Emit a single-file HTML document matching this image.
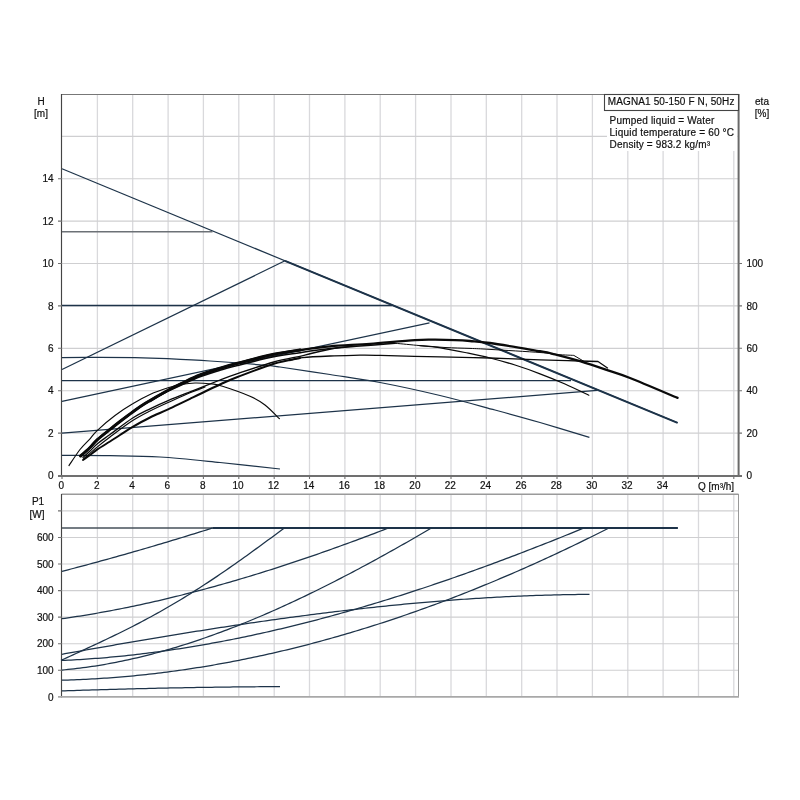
<!DOCTYPE html><html><head><meta charset="utf-8"><title>MAGNA1 50-150 F N</title><style>html,body{margin:0;padding:0;background:#fff}svg{display:block;will-change:transform}text{stroke:#111;stroke-width:.2px}</style></head><body><svg width="800" height="800" viewBox="0 0 800 800" font-family="Liberation Sans, Arial, sans-serif" font-size="10" fill="#111">
<rect width="800" height="800" fill="#fff"/>
<path d="M97.4 94.5V475 M97.4 494.5V696.5 M132.7 94.5V475 M132.7 494.5V696.5 M168.1 94.5V475 M168.1 494.5V696.5 M203.4 94.5V475 M203.4 494.5V696.5 M238.8 94.5V475 M238.8 494.5V696.5 M274.2 94.5V475 M274.2 494.5V696.5 M309.5 94.5V475 M309.5 494.5V696.5 M344.9 94.5V475 M344.9 494.5V696.5 M380.2 94.5V475 M380.2 494.5V696.5 M415.6 94.5V475 M415.6 494.5V696.5 M451.0 94.5V475 M451.0 494.5V696.5 M486.3 94.5V475 M486.3 494.5V696.5 M521.7 94.5V475 M521.7 494.5V696.5 M557.0 94.5V475 M557.0 494.5V696.5 M592.4 94.5V475 M592.4 494.5V696.5 M627.8 94.5V475 M627.8 494.5V696.5 M663.1 94.5V475 M663.1 494.5V696.5 M698.5 94.5V475 M698.5 494.5V696.5 M733.8 94.5V475 M733.8 494.5V696.5" stroke="#d9d9dc" stroke-width="1.3" fill="none"/>
<path d="M62 433.1H738 M62 390.7H738 M62 348.3H738 M62 305.9H738 M62 263.5H738 M62 221.1H738 M62 178.7H738 M62 136.3H738 M62 670.2H738 M62 643.7H738 M62 617.1H738 M62 590.6H738 M62 564.0H738 M62 537.5H738 M62 510.9H738" stroke="#cfcfd1" stroke-width="1.15" fill="none"/>
<rect x="607" y="111" width="130.5" height="40" fill="#fff"/>
<path d="M61.5 94.5H738.5" stroke="#777" stroke-width="1.2" fill="none"/>
<path d="M61.5 94V476" stroke="#444" stroke-width="1.15" fill="none"/>
<path d="M738.6 94V476.5" stroke="#6a6a6a" stroke-width="2" fill="none"/>
<path d="M58 476H742" stroke="#707070" stroke-width="1.8" fill="none"/>
<path d="M61.5 494.3H738.5" stroke="#9a9a9a" stroke-width="1.6" fill="none"/>
<path d="M738.5 494V697" stroke="#999" stroke-width="1" fill="none"/>
<path d="M61.5 494V697.5" stroke="#444" stroke-width="1.15" fill="none"/>
<path d="M58 696.8H739" stroke="#a8a8a8" stroke-width="1.8" fill="none"/>
<path d="M62.0 476V479 M97.4 476V479 M132.7 476V479 M168.1 476V479 M203.4 476V479 M238.8 476V479 M274.2 476V479 M309.5 476V479 M344.9 476V479 M380.2 476V479 M415.6 476V479 M451.0 476V479 M486.3 476V479 M521.7 476V479 M557.0 476V479 M592.4 476V479 M627.8 476V479 M663.1 476V479 M698.5 476V479 M733.8 476V479 M58 433.1H62 M58 390.7H62 M58 348.3H62 M58 305.9H62 M58 263.5H62 M58 221.1H62 M58 178.7H62 M738 433.1H742 M738 390.7H742 M738 348.3H742 M738 305.9H742 M738 263.5H742 M58 670.2H62 M58 643.7H62 M58 617.1H62 M58 590.6H62 M58 564.0H62 M58 537.5H62 M58 510.9H62" stroke="#707070" stroke-width="1.1" fill="none"/>
<g font-size="10">
<text x="53.6" y="479.2" text-anchor="end">0</text>
<text x="53.6" y="436.8" text-anchor="end">2</text>
<text x="53.6" y="394.4" text-anchor="end">4</text>
<text x="53.6" y="352.0" text-anchor="end">6</text>
<text x="53.6" y="309.6" text-anchor="end">8</text>
<text x="53.6" y="267.2" text-anchor="end">10</text>
<text x="53.6" y="224.8" text-anchor="end">12</text>
<text x="53.6" y="182.4" text-anchor="end">14</text>
<text x="746.4" y="479.2">0</text>
<text x="746.4" y="436.8">20</text>
<text x="746.4" y="394.4">40</text>
<text x="746.4" y="352.0">60</text>
<text x="746.4" y="309.6">80</text>
<text x="746.4" y="267.2">100</text>
<text x="61.3" y="489.2" text-anchor="middle">0</text>
<text x="96.7" y="489.2" text-anchor="middle">2</text>
<text x="132.0" y="489.2" text-anchor="middle">4</text>
<text x="167.4" y="489.2" text-anchor="middle">6</text>
<text x="202.7" y="489.2" text-anchor="middle">8</text>
<text x="238.1" y="489.2" text-anchor="middle">10</text>
<text x="273.5" y="489.2" text-anchor="middle">12</text>
<text x="308.8" y="489.2" text-anchor="middle">14</text>
<text x="344.2" y="489.2" text-anchor="middle">16</text>
<text x="379.5" y="489.2" text-anchor="middle">18</text>
<text x="414.9" y="489.2" text-anchor="middle">20</text>
<text x="450.3" y="489.2" text-anchor="middle">22</text>
<text x="485.6" y="489.2" text-anchor="middle">24</text>
<text x="521.0" y="489.2" text-anchor="middle">26</text>
<text x="556.3" y="489.2" text-anchor="middle">28</text>
<text x="591.7" y="489.2" text-anchor="middle">30</text>
<text x="627.1" y="489.2" text-anchor="middle">32</text>
<text x="662.4" y="489.2" text-anchor="middle">34</text>
<text x="53.6" y="700.5" text-anchor="end">0</text>
<text x="53.6" y="674.0" text-anchor="end">100</text>
<text x="53.6" y="647.4" text-anchor="end">200</text>
<text x="53.6" y="620.9" text-anchor="end">300</text>
<text x="53.6" y="594.3" text-anchor="end">400</text>
<text x="53.6" y="567.8" text-anchor="end">500</text>
<text x="53.6" y="541.2" text-anchor="end">600</text>
</g>
<text x="41" y="104.5" text-anchor="middle">H</text>
<text x="41" y="117" text-anchor="middle">[m]</text>
<text x="762" y="104.5" text-anchor="middle">eta</text>
<text x="762" y="117" text-anchor="middle">[%]</text>
<text x="38" y="505" text-anchor="middle">P1</text>
<text x="37" y="518" text-anchor="middle">[W]</text>
<text x="698" y="489.5">Q [m³/h]</text>
<rect x="604.5" y="94.5" width="134" height="16" fill="#fff" stroke="#444" stroke-width="1.1"/>
<text x="607.8" y="105" textLength="126.6" lengthAdjust="spacing">MAGNA1 50-150 F N, 50Hz</text>
<text x="609.6" y="124" textLength="104.8" lengthAdjust="spacing">Pumped liquid = Water</text>
<text x="609.6" y="136" textLength="124.4" lengthAdjust="spacing">Liquid temperature = 60 °C</text>
<text x="609.6" y="148" textLength="100.4" lengthAdjust="spacing">Density = 983.2 kg/m³</text>
<path d="M62.0 168.8 L677.6 422.8" stroke="#1d3349" stroke-width="1.2" fill="none" stroke-linejoin="round"/>
<path d="M285.0 260.8 L677.6 422.8" stroke="#1d3349" stroke-width="2.0" fill="none" stroke-linejoin="round"/>
<path d="M62.0 231.7 L212.5 231.7" stroke="#6c7176" stroke-width="1.4" fill="none" stroke-linejoin="round"/>
<path d="M62.0 305.5 L392.0 305.5" stroke="#1d3349" stroke-width="1.3" fill="none" stroke-linejoin="round"/>
<path d="M62.0 380.6 L571.0 380.6" stroke="#1d3349" stroke-width="1.3" fill="none" stroke-linejoin="round"/>
<path d="M62.0 369.5 L285.0 260.8" stroke="#1d3349" stroke-width="1.25" fill="none" stroke-linejoin="round"/>
<path d="M62.0 401.3 L429.5 322.8" stroke="#1d3349" stroke-width="1.25" fill="none" stroke-linejoin="round"/>
<path d="M62.0 433.2 L597.0 390.4" stroke="#1d3349" stroke-width="1.25" fill="none" stroke-linejoin="round"/>
<path d="M62.0 357.6 C68.3 357.6 87.8 357.4 100.0 357.4 C112.2 357.4 123.8 357.4 135.0 357.6 C146.2 357.8 155.0 358.1 167.5 358.7 C180.0 359.3 194.6 360.0 210.0 361.0 C225.4 362.0 248.3 363.8 260.0 364.8 C271.7 365.8 268.3 365.4 280.0 367.0 C291.7 368.6 313.3 371.9 330.0 374.5 C346.7 377.1 361.7 379.0 380.0 382.5 C398.3 386.0 420.8 390.9 440.0 395.5 C459.2 400.1 478.3 405.5 495.0 410.0 C511.7 414.5 524.3 417.9 540.0 422.5 C555.7 427.1 581.2 434.8 589.4 437.3" stroke="#1d3349" stroke-width="1.25" fill="none" stroke-linejoin="round"/>
<path d="M62.0 455.3 C70.0 455.4 93.7 455.3 110.0 455.6 C126.3 455.9 141.7 455.9 160.0 457.0 C178.3 458.1 200.0 460.5 220.0 462.5 C240.0 464.5 270.0 467.9 280.0 469.0" stroke="#1d3349" stroke-width="1.25" fill="none" stroke-linejoin="round"/>
<path d="M62.0 528.0 L214.0 528.0" stroke="#46505a" stroke-width="1.6" fill="none" stroke-linejoin="round"/>
<path d="M213.0 528.0 L677.9 528.0" stroke="#1d3349" stroke-width="1.9" fill="none" stroke-linejoin="round"/>
<path d="M62.0 571.37 L65.0 570.59 L68.0 569.81 L71.0 569.02 L74.0 568.23 L77.0 567.44 L80.0 566.64 L83.0 565.84 L86.0 565.04 L89.0 564.23 L92.0 563.42 L95.0 562.61 L98.0 561.79 L101.0 560.97 L104.0 560.15 L107.0 559.32 L110.0 558.49 L113.0 557.65 L116.0 556.81 L119.0 555.97 L122.0 555.13 L125.0 554.28 L128.0 553.42 L131.0 552.57 L134.0 551.71 L137.0 550.85 L140.0 549.98 L143.0 549.11 L146.0 548.24 L149.0 547.36 L152.0 546.48 L155.0 545.60 L158.0 544.71 L161.0 543.82 L164.0 542.92 L167.0 542.03 L170.0 541.12 L173.0 540.22 L176.0 539.31 L179.0 538.40 L182.0 537.48 L185.0 536.57 L188.0 535.64 L191.0 534.72 L194.0 533.79 L197.0 532.86 L200.0 531.92 L203.0 530.98 L206.0 530.04 L209.0 529.09 L212.0 528.14 L213.8 528.00" stroke="#1d3349" stroke-width="1.25" fill="none" stroke-linejoin="round"/>
<path d="M61.0 660.38 L64.0 658.99 L67.0 657.60 L70.0 656.21 L73.0 654.83 L76.0 653.45 L79.0 652.07 L82.0 650.69 L85.0 649.31 L88.0 647.92 L91.0 646.53 L94.0 645.14 L97.0 643.74 L100.0 642.33 L103.0 640.92 L106.0 639.49 L109.0 638.06 L112.0 636.62 L115.0 635.17 L118.0 633.70 L121.0 632.23 L124.0 630.74 L127.0 629.24 L130.0 627.72 L133.0 626.19 L136.0 624.65 L139.0 623.09 L142.0 621.51 L145.0 619.92 L148.0 618.31 L151.0 616.69 L154.0 615.04 L157.0 613.38 L160.0 611.71 L163.0 610.01 L166.0 608.30 L169.0 606.56 L172.0 604.81 L175.0 603.04 L178.0 601.25 L181.0 599.45 L184.0 597.62 L187.0 595.78 L190.0 593.92 L193.0 592.04 L196.0 590.14 L199.0 588.22 L202.0 586.29 L205.0 584.34 L208.0 582.37 L211.0 580.38 L214.0 578.38 L217.0 576.36 L220.0 574.33 L223.0 572.28 L226.0 570.21 L229.0 568.13 L232.0 566.04 L235.0 563.93 L238.0 561.82 L241.0 559.69 L244.0 557.54 L247.0 555.39 L250.0 553.23 L253.0 551.06 L256.0 548.88 L259.0 546.69 L262.0 544.50 L265.0 542.30 L268.0 540.10 L271.0 537.89 L274.0 535.68 L277.0 533.47 L280.0 531.26 L283.0 529.05 L284.2 528.13" stroke="#1d3349" stroke-width="1.25" fill="none" stroke-linejoin="round"/>
<path d="M62.0 618.72 L65.0 618.29 L68.0 617.86 L71.0 617.41 L74.0 616.96 L77.0 616.49 L80.0 616.02 L83.0 615.54 L86.0 615.05 L89.0 614.55 L92.0 614.04 L95.0 613.53 L98.0 613.00 L101.0 612.47 L104.0 611.93 L107.0 611.38 L110.0 610.82 L113.0 610.25 L116.0 609.68 L119.0 609.09 L122.0 608.50 L125.0 607.90 L128.0 607.29 L131.0 606.68 L134.0 606.05 L137.0 605.42 L140.0 604.78 L143.0 604.13 L146.0 603.47 L149.0 602.81 L152.0 602.14 L155.0 601.46 L158.0 600.77 L161.0 600.07 L164.0 599.37 L167.0 598.66 L170.0 597.94 L173.0 597.21 L176.0 596.48 L179.0 595.74 L182.0 594.99 L185.0 594.23 L188.0 593.47 L191.0 592.70 L194.0 591.92 L197.0 591.14 L200.0 590.35 L203.0 589.55 L206.0 588.74 L209.0 587.93 L212.0 587.11 L215.0 586.28 L218.0 585.44 L221.0 584.60 L224.0 583.75 L227.0 582.90 L230.0 582.04 L233.0 581.17 L236.0 580.29 L239.0 579.41 L242.0 578.52 L245.0 577.63 L248.0 576.73 L251.0 575.82 L254.0 574.90 L257.0 573.98 L260.0 573.06 L263.0 572.12 L266.0 571.18 L269.0 570.24 L272.0 569.29 L275.0 568.33 L278.0 567.36 L281.0 566.39 L284.0 565.42 L287.0 564.43 L290.0 563.45 L293.0 562.45 L296.0 561.45 L299.0 560.45 L302.0 559.44 L305.0 558.42 L308.0 557.40 L311.0 556.37 L314.0 555.33 L317.0 554.29 L320.0 553.25 L323.0 552.20 L326.0 551.14 L329.0 550.08 L332.0 549.01 L335.0 547.94 L338.0 546.87 L341.0 545.78 L344.0 544.70 L347.0 543.60 L350.0 542.51 L353.0 541.40 L356.0 540.30 L359.0 539.18 L362.0 538.07 L365.0 536.94 L368.0 535.82 L371.0 534.68 L374.0 533.55 L377.0 532.41 L380.0 531.26 L383.0 530.11 L386.0 528.96 L388.8 528.00" stroke="#1d3349" stroke-width="1.25" fill="none" stroke-linejoin="round"/>
<path d="M62.0 670.02 L65.0 669.75 L68.0 669.46 L71.0 669.15 L74.0 668.82 L77.0 668.47 L80.0 668.11 L83.0 667.72 L86.0 667.32 L89.0 666.90 L92.0 666.46 L95.0 666.01 L98.0 665.53 L101.0 665.04 L104.0 664.53 L107.0 664.00 L110.0 663.46 L113.0 662.90 L116.0 662.32 L119.0 661.72 L122.0 661.11 L125.0 660.48 L128.0 659.83 L131.0 659.16 L134.0 658.48 L137.0 657.79 L140.0 657.07 L143.0 656.34 L146.0 655.60 L149.0 654.84 L152.0 654.06 L155.0 653.27 L158.0 652.46 L161.0 651.63 L164.0 650.80 L167.0 649.94 L170.0 649.07 L173.0 648.19 L176.0 647.29 L179.0 646.37 L182.0 645.44 L185.0 644.50 L188.0 643.54 L191.0 642.57 L194.0 641.58 L197.0 640.58 L200.0 639.56 L203.0 638.53 L206.0 637.49 L209.0 636.43 L212.0 635.36 L215.0 634.28 L218.0 633.18 L221.0 632.07 L224.0 630.95 L227.0 629.81 L230.0 628.66 L233.0 627.50 L236.0 626.33 L239.0 625.14 L242.0 623.94 L245.0 622.73 L248.0 621.50 L251.0 620.27 L254.0 619.02 L257.0 617.76 L260.0 616.49 L263.0 615.20 L266.0 613.91 L269.0 612.60 L272.0 611.28 L275.0 609.95 L278.0 608.61 L281.0 607.26 L284.0 605.90 L287.0 604.53 L290.0 603.15 L293.0 601.75 L296.0 600.35 L299.0 598.94 L302.0 597.51 L305.0 596.08 L308.0 594.63 L311.0 593.18 L314.0 591.72 L317.0 590.24 L320.0 588.76 L323.0 587.27 L326.0 585.77 L329.0 584.26 L332.0 582.74 L335.0 581.21 L338.0 579.67 L341.0 578.13 L344.0 576.57 L347.0 575.01 L350.0 573.44 L353.0 571.86 L356.0 570.27 L359.0 568.68 L362.0 567.07 L365.0 565.46 L368.0 563.85 L371.0 562.22 L374.0 560.59 L377.0 558.95 L380.0 557.30 L383.0 555.64 L386.0 553.98 L389.0 552.31 L392.0 550.64 L395.0 548.96 L398.0 547.27 L401.0 545.57 L404.0 543.87 L407.0 542.17 L410.0 540.45 L413.0 538.73 L416.0 537.01 L419.0 535.28 L422.0 533.54 L425.0 531.80 L428.0 530.06 L431.0 528.30 L431.2 528.16" stroke="#1d3349" stroke-width="1.25" fill="none" stroke-linejoin="round"/>
<path d="M62.0 660.46 L65.0 660.33 L68.0 660.18 L71.0 660.03 L74.0 659.87 L77.0 659.70 L80.0 659.52 L83.0 659.33 L86.0 659.13 L89.0 658.93 L92.0 658.71 L95.0 658.49 L98.0 658.26 L101.0 658.02 L104.0 657.76 L107.0 657.51 L110.0 657.24 L113.0 656.96 L116.0 656.68 L119.0 656.39 L122.0 656.08 L125.0 655.77 L128.0 655.46 L131.0 655.13 L134.0 654.79 L137.0 654.45 L140.0 654.10 L143.0 653.74 L146.0 653.37 L149.0 652.99 L152.0 652.61 L155.0 652.22 L158.0 651.81 L161.0 651.40 L164.0 650.99 L167.0 650.56 L170.0 650.13 L173.0 649.69 L176.0 649.24 L179.0 648.78 L182.0 648.32 L185.0 647.84 L188.0 647.36 L191.0 646.88 L194.0 646.38 L197.0 645.88 L200.0 645.36 L203.0 644.85 L206.0 644.32 L209.0 643.78 L212.0 643.24 L215.0 642.69 L218.0 642.14 L221.0 641.57 L224.0 641.00 L227.0 640.42 L230.0 639.84 L233.0 639.24 L236.0 638.64 L239.0 638.03 L242.0 637.42 L245.0 636.79 L248.0 636.16 L251.0 635.53 L254.0 634.88 L257.0 634.23 L260.0 633.57 L263.0 632.91 L266.0 632.24 L269.0 631.56 L272.0 630.87 L275.0 630.18 L278.0 629.48 L281.0 628.77 L284.0 628.06 L287.0 627.34 L290.0 626.61 L293.0 625.88 L296.0 625.14 L299.0 624.39 L302.0 623.64 L305.0 622.88 L308.0 622.11 L311.0 621.34 L314.0 620.56 L317.0 619.78 L320.0 618.98 L323.0 618.19 L326.0 617.38 L329.0 616.57 L332.0 615.75 L335.0 614.93 L338.0 614.10 L341.0 613.26 L344.0 612.42 L347.0 611.57 L350.0 610.72 L353.0 609.86 L356.0 608.99 L359.0 608.12 L362.0 607.24 L365.0 606.36 L368.0 605.46 L371.0 604.57 L374.0 603.67 L377.0 602.76 L380.0 601.85 L383.0 600.93 L386.0 600.00 L389.0 599.07 L392.0 598.14 L395.0 597.19 L398.0 596.25 L401.0 595.29 L404.0 594.34 L407.0 593.37 L410.0 592.40 L413.0 591.43 L416.0 590.45 L419.0 589.46 L422.0 588.47 L425.0 587.48 L428.0 586.47 L431.0 585.47 L434.0 584.46 L437.0 583.44 L440.0 582.42 L443.0 581.39 L446.0 580.36 L449.0 579.32 L452.0 578.28 L455.0 577.23 L458.0 576.18 L461.0 575.12 L464.0 574.06 L467.0 572.99 L470.0 571.92 L473.0 570.85 L476.0 569.77 L479.0 568.68 L482.0 567.59 L485.0 566.50 L488.0 565.40 L491.0 564.29 L494.0 563.18 L497.0 562.07 L500.0 560.95 L503.0 559.83 L506.0 558.70 L509.0 557.57 L512.0 556.44 L515.0 555.30 L518.0 554.15 L521.0 553.01 L524.0 551.85 L527.0 550.70 L530.0 549.54 L533.0 548.37 L536.0 547.20 L539.0 546.03 L542.0 544.85 L545.0 543.67 L548.0 542.48 L551.0 541.30 L554.0 540.10 L557.0 538.91 L560.0 537.71 L563.0 536.50 L566.0 535.29 L569.0 534.08 L572.0 532.86 L575.0 531.65 L578.0 530.42 L581.0 529.20 L584.0 528.00 L587.0 528.00 L587.5 528.00" stroke="#1d3349" stroke-width="1.25" fill="none" stroke-linejoin="round"/>
<path d="M62.0 680.19 L65.0 680.11 L68.0 680.02 L71.0 679.92 L74.0 679.81 L77.0 679.70 L80.0 679.57 L83.0 679.43 L86.0 679.29 L89.0 679.14 L92.0 678.98 L95.0 678.80 L98.0 678.62 L101.0 678.44 L104.0 678.24 L107.0 678.03 L110.0 677.81 L113.0 677.59 L116.0 677.36 L119.0 677.11 L122.0 676.86 L125.0 676.60 L128.0 676.33 L131.0 676.06 L134.0 675.77 L137.0 675.47 L140.0 675.17 L143.0 674.86 L146.0 674.54 L149.0 674.21 L152.0 673.87 L155.0 673.52 L158.0 673.16 L161.0 672.80 L164.0 672.42 L167.0 672.04 L170.0 671.65 L173.0 671.25 L176.0 670.84 L179.0 670.42 L182.0 670.00 L185.0 669.56 L188.0 669.12 L191.0 668.67 L194.0 668.21 L197.0 667.74 L200.0 667.26 L203.0 666.78 L206.0 666.28 L209.0 665.78 L212.0 665.27 L215.0 664.75 L218.0 664.22 L221.0 663.69 L224.0 663.14 L227.0 662.59 L230.0 662.03 L233.0 661.46 L236.0 660.88 L239.0 660.29 L242.0 659.69 L245.0 659.09 L248.0 658.48 L251.0 657.86 L254.0 657.23 L257.0 656.59 L260.0 655.95 L263.0 655.30 L266.0 654.63 L269.0 653.97 L272.0 653.29 L275.0 652.60 L278.0 651.91 L281.0 651.20 L284.0 650.49 L287.0 649.77 L290.0 649.05 L293.0 648.31 L296.0 647.57 L299.0 646.82 L302.0 646.06 L305.0 645.29 L308.0 644.52 L311.0 643.73 L314.0 642.94 L317.0 642.14 L320.0 641.33 L323.0 640.52 L326.0 639.69 L329.0 638.86 L332.0 638.02 L335.0 637.18 L338.0 636.32 L341.0 635.46 L344.0 634.59 L347.0 633.71 L350.0 632.82 L353.0 631.92 L356.0 631.02 L359.0 630.11 L362.0 629.19 L365.0 628.27 L368.0 627.33 L371.0 626.39 L374.0 625.44 L377.0 624.48 L380.0 623.52 L383.0 622.55 L386.0 621.57 L389.0 620.58 L392.0 619.58 L395.0 618.58 L398.0 617.57 L401.0 616.55 L404.0 615.52 L407.0 614.49 L410.0 613.44 L413.0 612.39 L416.0 611.34 L419.0 610.27 L422.0 609.20 L425.0 608.12 L428.0 607.03 L431.0 605.94 L434.0 604.83 L437.0 603.72 L440.0 602.61 L443.0 601.48 L446.0 600.35 L449.0 599.21 L452.0 598.06 L455.0 596.91 L458.0 595.74 L461.0 594.58 L464.0 593.40 L467.0 592.21 L470.0 591.02 L473.0 589.82 L476.0 588.62 L479.0 587.40 L482.0 586.18 L485.0 584.95 L488.0 583.72 L491.0 582.47 L494.0 581.22 L497.0 579.97 L500.0 578.70 L503.0 577.43 L506.0 576.15 L509.0 574.86 L512.0 573.57 L515.0 572.27 L518.0 570.96 L521.0 569.65 L524.0 568.32 L527.0 566.99 L530.0 565.66 L533.0 564.31 L536.0 562.96 L539.0 561.61 L542.0 560.24 L545.0 558.87 L548.0 557.49 L551.0 556.10 L554.0 554.71 L557.0 553.31 L560.0 551.90 L563.0 550.49 L566.0 549.07 L569.0 547.64 L572.0 546.21 L575.0 544.77 L578.0 543.32 L581.0 541.86 L584.0 540.40 L587.0 538.93 L590.0 537.45 L593.0 535.97 L596.0 534.48 L599.0 532.99 L602.0 531.48 L605.0 529.97 L608.0 528.46 L611.0 528.00 L611.2 528.00" stroke="#1d3349" stroke-width="1.25" fill="none" stroke-linejoin="round"/>
<path d="M62.0 654.28 L65.0 653.74 L68.0 653.21 L71.0 652.67 L74.0 652.13 L77.0 651.60 L80.0 651.07 L83.0 650.53 L86.0 650.00 L89.0 649.47 L92.0 648.94 L95.0 648.41 L98.0 647.88 L101.0 647.36 L104.0 646.83 L107.0 646.31 L110.0 645.79 L113.0 645.26 L116.0 644.74 L119.0 644.22 L122.0 643.71 L125.0 643.19 L128.0 642.67 L131.0 642.16 L134.0 641.65 L137.0 641.14 L140.0 640.63 L143.0 640.12 L146.0 639.61 L149.0 639.11 L152.0 638.60 L155.0 638.10 L158.0 637.60 L161.0 637.10 L164.0 636.60 L167.0 636.11 L170.0 635.61 L173.0 635.12 L176.0 634.63 L179.0 634.14 L182.0 633.65 L185.0 633.17 L188.0 632.68 L191.0 632.20 L194.0 631.72 L197.0 631.24 L200.0 630.77 L203.0 630.29 L206.0 629.82 L209.0 629.35 L212.0 628.88 L215.0 628.42 L218.0 627.95 L221.0 627.49 L224.0 627.03 L227.0 626.57 L230.0 626.12 L233.0 625.66 L236.0 625.21 L239.0 624.76 L242.0 624.32 L245.0 623.87 L248.0 623.43 L251.0 622.99 L254.0 622.55 L257.0 622.12 L260.0 621.68 L263.0 621.25 L266.0 620.83 L269.0 620.40 L272.0 619.98 L275.0 619.56 L278.0 619.14 L281.0 618.72 L284.0 618.31 L287.0 617.90 L290.0 617.49 L293.0 617.09 L296.0 616.69 L299.0 616.29 L302.0 615.89 L305.0 615.50 L308.0 615.11 L311.0 614.72 L314.0 614.34 L317.0 613.95 L320.0 613.57 L323.0 613.20 L326.0 612.82 L329.0 612.45 L332.0 612.09 L335.0 611.72 L338.0 611.36 L341.0 611.00 L344.0 610.65 L347.0 610.29 L350.0 609.94 L353.0 609.60 L356.0 609.26 L359.0 608.92 L362.0 608.58 L365.0 608.25 L368.0 607.92 L371.0 607.59 L374.0 607.27 L377.0 606.95 L380.0 606.63 L383.0 606.32 L386.0 606.01 L389.0 605.70 L392.0 605.40 L395.0 605.10 L398.0 604.81 L401.0 604.52 L404.0 604.23 L407.0 603.94 L410.0 603.66 L413.0 603.38 L416.0 603.11 L419.0 602.84 L422.0 602.57 L425.0 602.31 L428.0 602.05 L431.0 601.80 L434.0 601.55 L437.0 601.30 L440.0 601.06 L443.0 600.82 L446.0 600.58 L449.0 600.35 L452.0 600.12 L455.0 599.90 L458.0 599.68 L461.0 599.46 L464.0 599.25 L467.0 599.04 L470.0 598.84 L473.0 598.64 L476.0 598.45 L479.0 598.26 L482.0 598.07 L485.0 597.89 L488.0 597.71 L491.0 597.54 L494.0 597.37 L497.0 597.20 L500.0 597.04 L503.0 596.89 L506.0 596.73 L509.0 596.59 L512.0 596.44 L515.0 596.31 L518.0 596.17 L521.0 596.04 L524.0 595.92 L527.0 595.80 L530.0 595.68 L533.0 595.57 L536.0 595.47 L539.0 595.36 L542.0 595.27 L545.0 595.18 L548.0 595.09 L551.0 595.01 L554.0 594.93 L557.0 594.86 L560.0 594.79 L563.0 594.72 L566.0 594.67 L569.0 594.61 L572.0 594.56 L575.0 594.52 L578.0 594.48 L581.0 594.45 L584.0 594.42 L587.0 594.40 L589.5 594.38" stroke="#1d3349" stroke-width="1.25" fill="none" stroke-linejoin="round"/>
<path d="M62.0 690.94 L65.0 690.84 L68.0 690.74 L71.0 690.63 L74.0 690.53 L77.0 690.44 L80.0 690.34 L83.0 690.24 L86.0 690.15 L89.0 690.05 L92.0 689.96 L95.0 689.87 L98.0 689.78 L101.0 689.69 L104.0 689.61 L107.0 689.52 L110.0 689.43 L113.0 689.35 L116.0 689.27 L119.0 689.19 L122.0 689.11 L125.0 689.03 L128.0 688.95 L131.0 688.87 L134.0 688.80 L137.0 688.72 L140.0 688.65 L143.0 688.58 L146.0 688.51 L149.0 688.44 L152.0 688.37 L155.0 688.30 L158.0 688.24 L161.0 688.17 L164.0 688.11 L167.0 688.05 L170.0 687.99 L173.0 687.93 L176.0 687.87 L179.0 687.81 L182.0 687.76 L185.0 687.70 L188.0 687.65 L191.0 687.59 L194.0 687.54 L197.0 687.49 L200.0 687.45 L203.0 687.40 L206.0 687.35 L209.0 687.31 L212.0 687.26 L215.0 687.22 L218.0 687.18 L221.0 687.14 L224.0 687.10 L227.0 687.06 L230.0 687.02 L233.0 686.99 L236.0 686.96 L239.0 686.92 L242.0 686.89 L245.0 686.86 L248.0 686.83 L251.0 686.80 L254.0 686.78 L257.0 686.75 L260.0 686.73 L263.0 686.70 L266.0 686.68 L269.0 686.66 L272.0 686.64 L275.0 686.62 L278.0 686.60 L280.0 686.59" stroke="#1d3349" stroke-width="1.25" fill="none" stroke-linejoin="round"/>
<path d="M69.0 465.6 C70.8 462.9 76.5 454.0 80.0 449.5 C83.5 445.0 87.1 441.9 90.0 438.8 C92.9 435.6 93.2 434.2 97.4 430.3 C101.6 426.4 109.1 419.9 115.0 415.5 C120.9 411.1 126.9 407.2 132.7 403.8 C138.5 400.2 144.1 397.2 150.0 394.5 C155.9 391.8 162.7 389.5 168.1 387.8 C173.5 386.1 178.0 385.1 182.5 384.3 C187.0 383.5 190.1 383.1 195.0 383.0 C199.9 382.9 207.4 383.5 212.0 384.0 C216.6 384.5 216.2 384.2 222.5 386.2 C228.8 388.2 242.9 393.1 250.0 396.2 C257.1 399.3 260.1 401.2 265.0 405.0 C269.9 408.8 277.0 416.4 279.4 418.7" stroke="#0a0a0a" stroke-width="1.15" fill="none" stroke-linejoin="round" stroke-linecap="round"/>
<path d="M80.6 456.0 C82.2 454.6 87.2 450.2 90.0 447.5 C92.8 444.8 94.1 442.6 97.4 439.6 C100.7 436.6 106.2 432.4 110.0 429.4 C113.8 426.4 116.2 424.4 120.0 421.5 C123.8 418.6 128.5 415.0 132.7 412.0 C136.9 409.0 139.1 407.1 145.0 403.5 C150.9 399.9 161.8 393.6 168.1 390.2 C174.3 386.8 177.2 385.5 182.5 383.0 C187.8 380.5 193.8 377.4 200.0 375.0 C206.2 372.6 213.8 370.2 220.0 368.3 C226.2 366.4 228.5 365.6 237.5 363.3 C246.5 361.0 263.3 356.5 273.8 354.3 C284.2 352.1 290.6 351.3 300.0 350.0 C309.4 348.7 318.3 347.3 330.0 346.3 C341.7 345.3 355.8 344.8 370.0 343.8 C384.2 342.7 404.2 340.8 415.0 340.1 C425.8 339.4 428.3 339.7 435.0 339.7 C441.7 339.7 449.2 339.9 455.0 340.1 C460.8 340.3 464.2 340.5 470.0 341.0 C475.8 341.5 478.3 341.3 490.0 343.0 C501.7 344.7 529.2 349.4 540.0 351.2 C550.8 353.1 548.3 352.7 555.0 354.4 C561.7 356.1 571.7 358.8 580.0 361.2 C588.3 363.8 596.7 366.6 605.0 369.4 C613.3 372.2 617.9 373.2 630.0 378.0 C642.1 382.8 669.7 394.6 677.6 397.9" stroke="#0a0a0a" stroke-width="2.3" fill="none" stroke-linejoin="round" stroke-linecap="round"/>
<path d="M80.6 456.0 C82.2 454.6 87.2 450.2 90.0 447.5 C92.8 444.8 94.1 442.6 97.4 439.6 C100.7 436.6 106.2 432.4 110.0 429.4 C113.8 426.4 116.2 424.4 120.0 421.5 C123.8 418.6 128.5 415.0 132.7 412.0 C136.9 409.0 139.1 407.1 145.0 403.5 C150.9 399.9 161.8 393.6 168.1 390.2 C174.3 386.8 177.2 385.5 182.5 383.0 C187.8 380.5 193.8 377.4 200.0 375.0 C206.2 372.6 213.8 370.2 220.0 368.3 C226.2 366.4 228.5 365.6 237.5 363.3 C246.5 361.0 263.3 356.5 273.8 354.3 C284.2 352.1 295.6 350.7 300.0 350.0" stroke="#0a0a0a" stroke-width="3.0" fill="none" stroke-linejoin="round" stroke-linecap="round"/>
<path d="M150.0 401.5 C153.0 399.8 162.7 394.0 168.1 391.2 C173.5 388.4 177.2 386.9 182.5 384.5 C187.8 382.1 193.8 379.2 200.0 376.8 C206.2 374.4 213.8 372.2 220.0 370.3 C226.2 368.4 228.5 367.8 237.5 365.5 C246.5 363.2 263.3 358.9 273.8 356.8 C284.2 354.7 290.6 354.1 300.0 352.7 C309.4 351.3 320.0 349.7 330.0 348.6 C340.0 347.5 349.2 346.9 360.0 346.0 C370.8 345.1 389.2 343.8 395.0 343.3" stroke="#0a0a0a" stroke-width="1.5" fill="none" stroke-linejoin="round" stroke-linecap="round"/>
<path d="M83.0 457.5 C84.2 456.4 87.6 453.3 90.0 451.0 C92.4 448.7 94.1 446.5 97.4 443.8 C100.7 441.0 104.1 438.8 110.0 434.5 C115.9 430.2 126.0 422.3 132.7 418.0 C139.4 413.7 144.1 411.7 150.0 408.8 C155.9 405.9 161.4 403.4 168.1 400.6 C174.8 397.8 181.3 395.3 190.0 391.9 C198.7 388.5 212.1 383.1 220.0 380.0 C227.9 376.9 228.5 376.6 237.5 373.6 C246.5 370.6 263.3 364.9 273.8 362.0 C284.2 359.1 293.8 357.7 300.0 356.3 C306.2 354.9 305.0 354.9 311.0 353.5 C317.0 352.1 329.5 349.2 336.0 348.0 C342.5 346.8 347.7 346.6 350.0 346.3" stroke="#0a0a0a" stroke-width="1.3" fill="none" stroke-linejoin="round" stroke-linecap="round"/>
<path d="M83.5 459.0 C85.8 457.0 93.0 450.6 97.4 446.9 C101.8 443.2 104.1 441.4 110.0 437.0 C115.9 432.6 126.0 424.9 132.7 420.6 C139.4 416.3 144.1 414.0 150.0 411.0 C155.9 408.0 161.4 405.5 168.1 402.5 C174.8 399.5 183.8 395.4 190.0 392.8 C196.2 390.2 202.5 388.0 205.0 387.0" stroke="#0a0a0a" stroke-width="1.2" fill="none" stroke-linejoin="round" stroke-linecap="round"/>
<path d="M83.0 460.0 C84.2 459.2 87.6 456.8 90.0 455.0 C92.4 453.2 94.1 451.6 97.4 449.4 C100.7 447.1 106.2 443.9 110.0 441.5 C113.8 439.1 116.2 437.4 120.0 435.0 C123.8 432.6 127.7 429.8 132.7 426.9 C137.7 424.0 144.1 420.4 150.0 417.5 C155.9 414.6 161.4 412.5 168.1 409.4 C174.8 406.3 181.3 402.9 190.0 398.8 C198.7 394.6 212.1 388.1 220.0 384.5 C227.9 380.9 228.5 380.4 237.5 377.0 C246.5 373.6 263.3 367.0 273.8 363.8 C284.2 360.6 295.6 359.0 300.0 358.0" stroke="#0a0a0a" stroke-width="2.0" fill="none" stroke-linejoin="round" stroke-linecap="round"/>
<path d="M290.0 360.5 C292.1 360.0 295.8 358.4 302.5 357.7 C309.2 356.9 320.4 356.4 330.0 356.0 C339.6 355.6 351.7 355.4 360.0 355.2 C368.3 355.1 366.7 355.1 380.0 355.4 C393.3 355.7 421.7 356.5 440.0 356.9 C458.3 357.3 473.3 357.5 490.0 358.0 C506.7 358.5 527.1 359.3 540.0 359.8 C552.9 360.2 557.8 360.3 567.5 360.6 C577.2 360.9 592.9 361.4 598.0 361.5 L607.5 368" stroke="#0a0a0a" stroke-width="1.3" fill="none" stroke-linejoin="round" stroke-linecap="round"/>
<path d="M385.0 343.2 C386.7 343.2 389.2 342.9 395.0 343.3 C400.8 343.7 411.7 344.9 420.0 345.6 C428.3 346.3 436.7 347.0 445.0 347.5 C453.3 348.0 462.5 348.1 470.0 348.4 C477.5 348.7 478.3 348.7 490.0 349.4 C501.7 350.1 529.2 351.7 540.0 352.5 C550.8 353.3 549.4 353.9 555.0 354.4 C560.6 354.9 570.6 355.2 573.8 355.4 L583.7 361.2" stroke="#0a0a0a" stroke-width="1.0" fill="none" stroke-linejoin="round" stroke-linecap="round"/>
<path d="M420.0 345.6 C422.1 345.8 427.5 345.9 432.5 346.6 C437.5 347.3 444.6 348.6 450.0 349.6 C455.4 350.6 458.3 351.1 465.0 352.5 C471.7 353.9 481.7 355.9 490.0 358.0 C498.3 360.1 506.7 362.4 515.0 365.0 C523.3 367.6 531.7 370.6 540.0 373.8 C548.3 376.9 556.9 380.4 565.0 384.0 C573.1 387.6 584.8 393.3 588.8 395.2" stroke="#0a0a0a" stroke-width="1.25" fill="none" stroke-linejoin="round" stroke-linecap="round"/>
</svg></body></html>
